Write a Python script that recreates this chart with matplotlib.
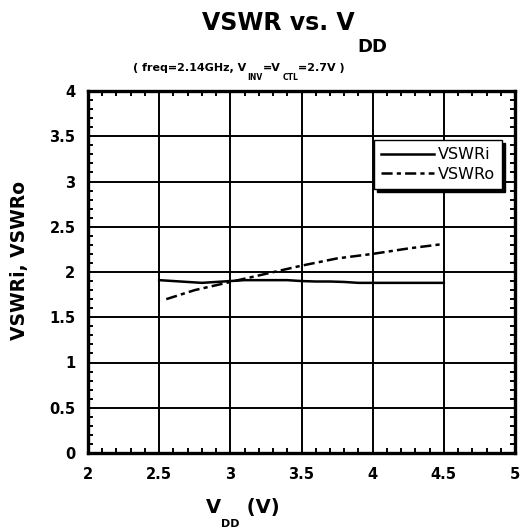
import matplotlib.pyplot as plt
from matplotlib.ticker import MultipleLocator

# Data
vdd_i = [2.5, 2.6, 2.7, 2.8, 2.9, 3.0, 3.1, 3.2, 3.3, 3.4, 3.5, 3.6, 3.7, 3.8, 3.9, 4.0, 4.1, 4.2, 4.3, 4.4, 4.5]
vswr_i = [1.91, 1.90, 1.89, 1.88, 1.89, 1.90, 1.91, 1.91, 1.91, 1.91, 1.90, 1.895, 1.895, 1.89, 1.88, 1.88, 1.88, 1.88, 1.88, 1.88, 1.88]
vdd_o = [2.55, 2.75, 3.0, 3.25, 3.5, 3.75, 4.0, 4.25, 4.5]
vswr_o = [1.70, 1.80, 1.89, 1.98, 2.07, 2.15, 2.20, 2.26, 2.31]

plt.rcParams['font.family'] = ['DejaVu Sans']
plt.rcParams['lines.scale_dashes'] = False

W, H = 522, 530
fig = plt.figure(figsize=(W / 100, H / 100), dpi=100)
ax = fig.add_axes([88 / W, 1 - 453 / H, (515 - 88) / W, (453 - 91) / H])


def px(x, y):
    return x / W, 1 - y / H


def after(prev, text, y, size, gap=0.0):
    # put text right after prev, baseline at pixel row y
    return ax.annotate(text, xy=(1, 1 - y / H), xycoords=(prev, 'figure fraction'),
                       xytext=(gap, 0), textcoords='offset points', fontsize=size,
                       fontweight='bold', va='baseline', ha='left', annotation_clip=False)


ax.plot(vdd_i, vswr_i, color='black', lw=1.8, label='VSWRi')
ax.plot(vdd_o, vswr_o, color='black', lw=1.8, dashes=(8, 3, 3, 3), label='VSWRo')

ax.set_xlim(2, 5)
ax.set_ylim(0, 4)
ax.xaxis.set_major_locator(MultipleLocator(0.5))
ax.xaxis.set_minor_locator(MultipleLocator(0.1))
ax.yaxis.set_major_locator(MultipleLocator(0.5))
ax.yaxis.set_minor_locator(MultipleLocator(0.1))
ax.xaxis.set_major_formatter(lambda v, p: f'{v:g}')
ax.yaxis.set_major_formatter(lambda v, p: f'{v:g}')
ax.grid(True, which='major', color='black', lw=1.4)
ax.tick_params(which='both', direction='in', top=True, right=True, width=1.4)
ax.tick_params(which='major', length=0)
ax.tick_params(which='minor', length=3.5)
ax.tick_params(axis='x', pad=10, labelsize=10.5)
ax.tick_params(axis='y', pad=9, labelsize=10.5)
for lab in ax.get_xticklabels() + ax.get_yticklabels():
    lab.set_fontweight('bold')
for s in ax.spines.values():
    s.set_linewidth(2.4)

leg = ax.legend(loc='upper right', bbox_to_anchor=px(502, 140),
                bbox_transform=fig.transFigure, fontsize=11.5, frameon=True, fancybox=False,
                shadow={'color': 'black', 'alpha': 1}, handlelength=3.3, handletextpad=0.25,
                borderpad=0.45, labelspacing=0.3, borderaxespad=0)
leg.get_frame().set_edgecolor('black')
leg.get_frame().set_linewidth(1.0)

# title with low subscript
t1 = fig.text(*px(202, 30), 'VSWR vs. V', fontsize=17, fontweight='bold', va='baseline', ha='left')
after(t1, 'DD', 52, 13, gap=2)

# subtitle
s1 = fig.text(*px(133, 71), '( freq=2.14GHz, V', fontsize=8, fontweight='bold', va='baseline', ha='left')
s2 = after(s1, 'INV', 80, 5.5, gap=1)
s3 = after(s2, '=V', 71, 8)
s4 = after(s3, 'CTL', 80, 5.5, gap=1)
after(s4, '=2.7V )', 71, 8)

# x label
x1 = fig.text(*px(206, 513), 'V', fontsize=14, fontweight='bold', va='baseline', ha='left')
x2 = after(x1, 'DD', 527, 8, gap=0)
after(x2, ' (V)', 513, 14)

# y label
fig.text(*px(20, 261), 'VSWRi, VSWRo', fontsize=13.5, fontweight='bold', rotation=90,
         va='center', ha='center')

fig.savefig('out.png', dpi=100)
